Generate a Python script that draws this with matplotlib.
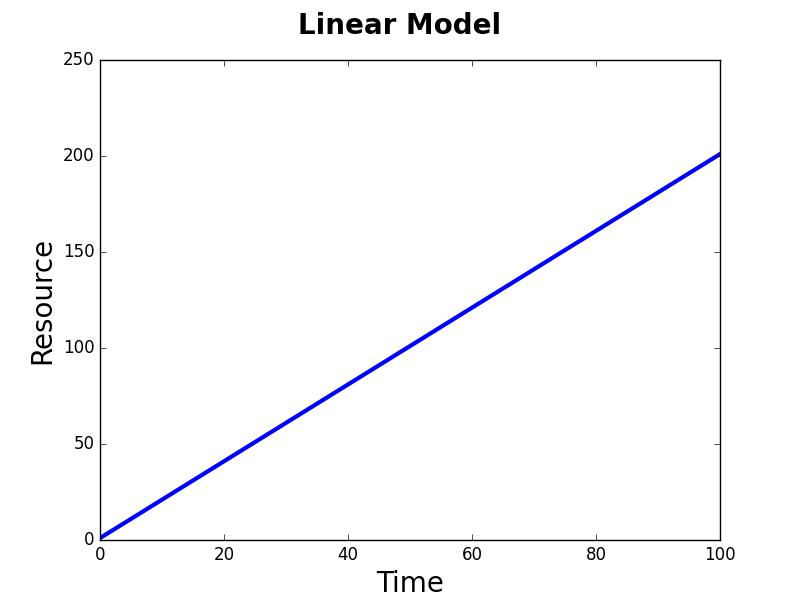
import matplotlib
matplotlib.use('Agg')
import matplotlib.pyplot as plt

# Values
time = [0, 20, 40, 60, 80, 100]
resource = [1, 41, 81, 121, 161, 201]

plt.style.use('classic')
fig, ax = plt.subplots(figsize=(8, 6), dpi=100)
fig.patch.set_facecolor('white')

ax.plot(time, resource, color='blue', linewidth=3)
ax.set_xlim(0, 100)
ax.set_ylim(0, 250)
ax.set_xlabel('Time', fontsize=20)
ax.set_ylabel('Resource', fontsize=20)
fig.suptitle('Linear Model', fontsize=20, fontweight='bold')

plt.savefig('out.png', dpi=100, facecolor='white')
